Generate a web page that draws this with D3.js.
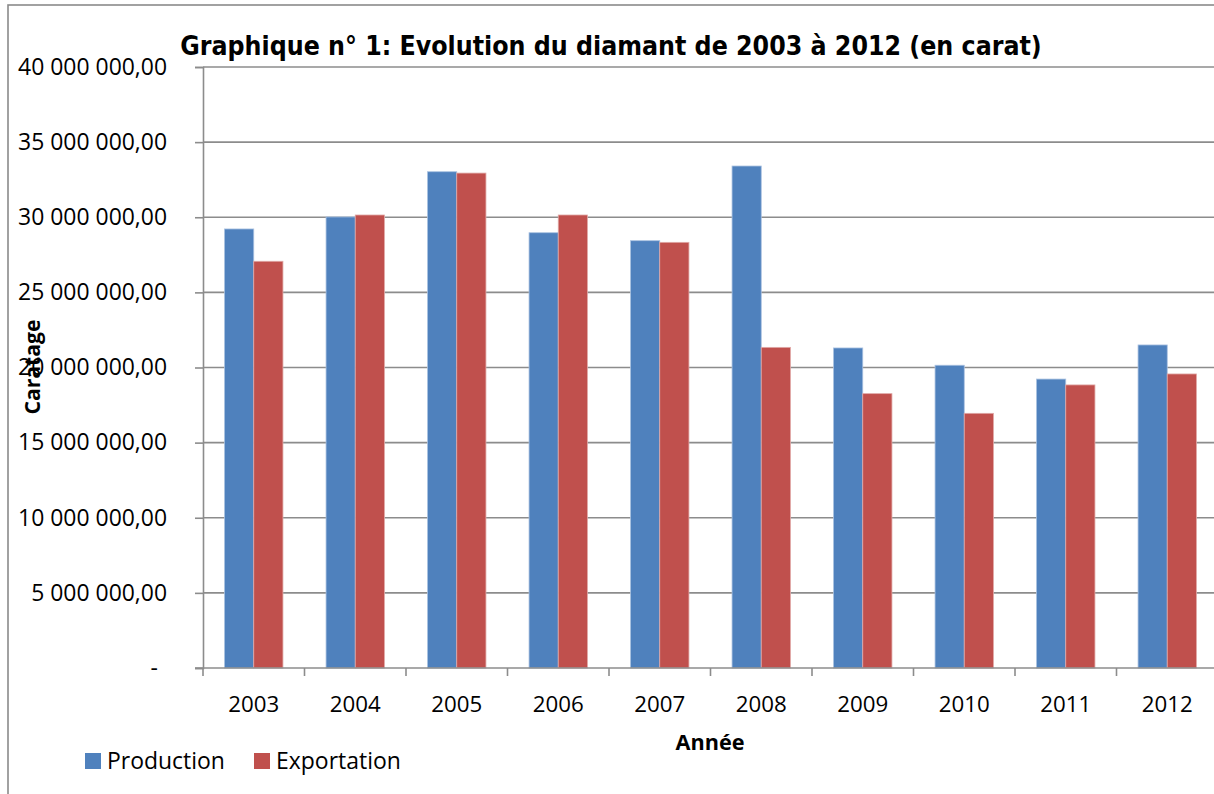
<!DOCTYPE html>
<html>
<head>
<meta charset="utf-8">
<script src="https://cdn.jsdelivr.net/npm/d3@7"></script>
<style>
  html, body { margin: 0; padding: 0; background: #fff; }
  svg { display: block; }
</style>
</head>
<body>
<svg id="chart" width="1214" height="794"></svg>
<script>
// ---- data ----
const years = ["2003","2004","2005","2006","2007","2008","2009","2010","2011","2012"];
const seriesNames = ["Production","Exportation"];
const production  = [29220000, 30020000, 33030000, 28970000, 28440000, 33410000, 21300000, 20150000, 19230000, 21500000];
const exportation = [27070000, 30150000, 32940000, 30150000, 28330000, 21340000, 18260000, 16950000, 18840000, 19570000];
const yTicks = [0, 5000000, 10000000, 15000000, 20000000, 25000000, 30000000, 35000000, 40000000];
const titleText = "Graphique n° 1: Evolution du diamant de 2003 à 2012 (en carat)";
const xTitle = "Année";
const yTitle = "Caratage";

// ---- layout ----
const colors = ["#4F81BD", "#C0504D"];
const plot = { left: 203, right: 1218, top: 67, bottom: 668 };
const svg = d3.select("#chart");
const labelFont = "'Open Sans', 'Liberation Sans', sans-serif";
const titleFont = "'DejaVu Sans', Verdana, sans-serif";

function fitWidth(sel, target) {
  const base = 20;
  sel.attr("font-size", base);
  let w = 0;
  sel.each(function () { w = Math.max(w, this.getComputedTextLength()); });
  if (w > 0) sel.attr("font-size", base * target / w);
}

// frame (only left and top visible)
svg.append("rect").attr("x", 8).attr("y", 5).attr("width", 1400).attr("height", 1000)
  .attr("fill", "none").attr("stroke", "#8a8a8a").attr("stroke-width", 1.6);

const x = d3.scaleBand().domain(years).range([plot.left, plot.right]).paddingInner(0).paddingOuter(0);
const xs = d3.scaleBand().domain(seriesNames).range([0, x.bandwidth()]).paddingInner(0).paddingOuter(0.738);
const y = d3.scaleLinear().domain([0, 40000000]).range([plot.bottom, plot.top]);

const fr = d3.formatLocale({ decimal: ",", thousands: "\u00a0", grouping: [3], currency: ["", ""] });
const fmt = fr.format(",.2f");

// gridlines
svg.append("g").selectAll("line").data(yTicks.filter(d => d > 0)).join("line")
  .attr("x1", plot.left).attr("x2", 1214)
  .attr("y1", d => y(d)).attr("y2", d => y(d))
  .attr("stroke", "#8c8c8c").attr("stroke-width", 1.6);

// bars
const data = years.map((yr, i) => ({ year: yr, values: [production[i], exportation[i]] }));
const groups = svg.append("g").selectAll("g").data(data).join("g")
  .attr("transform", d => `translate(${x(d.year)},0)`);
groups.selectAll("rect").data(d => d.values.map((v, j) => ({ name: seriesNames[j], v, j }))).join("rect")
  .attr("x", d => xs(d.name))
  .attr("width", xs.bandwidth())
  .attr("y", d => y(d.v))
  .attr("height", d => y(0) - y(d.v))
  .attr("fill", d => colors[d.j])
  .attr("stroke", d => d.j === 0 ? "#a9c1e0" : "#e0a9a7")
  .attr("stroke-width", 0.8);

// y axis
const yAxis = svg.append("g").attr("transform", `translate(${plot.left},0)`)
  .call(d3.axisLeft(y).tickValues(yTicks).tickSize(8).tickPadding(28)
    .tickFormat(d => d === 0 ? "-" : fmt(d)));
yAxis.select(".domain").attr("stroke", "#8c8c8c").attr("stroke-width", 1.6);
yAxis.selectAll(".tick line").attr("stroke", "#8c8c8c").attr("stroke-width", 1.6);
const yText = yAxis.selectAll(".tick text").attr("font-family", labelFont).attr("fill", "#000");
fitWidth(yText, 149);
yText.filter(d => d === 0).attr("dx", -9);

// x axis
const xAxis = svg.append("g").attr("transform", `translate(0,${plot.bottom})`)
  .call(d3.axisBottom(x).tickSize(0).tickPadding(0));
xAxis.select(".domain").remove();
const xText = xAxis.selectAll(".tick text").attr("font-family", labelFont).attr("fill", "#000")
  .attr("dy", null).attr("y", 44);
fitWidth(xText, 51);
svg.append("line").attr("x1", plot.left - 8).attr("x2", 1214).attr("y1", plot.bottom).attr("y2", plot.bottom)
  .attr("stroke", "#8c8c8c").attr("stroke-width", 1.6);
svg.append("g").selectAll("line").data(years).join("line")
  .attr("x1", d => x(d)).attr("x2", d => x(d))
  .attr("y1", plot.bottom).attr("y2", plot.bottom + 8)
  .attr("stroke", "#8c8c8c").attr("stroke-width", 1.6);

// title
const t = svg.append("text").attr("x", 611).attr("y", 55).attr("text-anchor", "middle")
  .attr("font-family", titleFont).attr("font-weight", "bold").attr("font-stretch", "condensed")
  .attr("fill", "#000").text(titleText);
fitWidth(t, 862);

// axis titles
const xt = svg.append("text").attr("x", 710).attr("y", 750).attr("text-anchor", "middle")
  .attr("font-family", labelFont).attr("font-weight", "bold")
  .attr("fill", "#000").text(xTitle);
fitWidth(xt, 69);
const yt = svg.append("text").attr("transform", "translate(40,367) rotate(-90)").attr("text-anchor", "middle")
  .attr("font-family", labelFont).attr("font-weight", "bold")
  .attr("fill", "#000").text(yTitle);
fitWidth(yt, 95);

// legend
const legX = [85, 254];
const leg = svg.append("g").selectAll("g").data(seriesNames).join("g")
  .attr("transform", (d, i) => `translate(${legX[i]},753)`);
leg.append("rect").attr("width", 16).attr("height", 16).attr("fill", (d, i) => colors[i]);
const legText = leg.append("text").attr("x", 22).attr("y", 16)
  .attr("font-family", labelFont).attr("fill", "#000").text(d => d);
fitWidth(legText.filter((d, i) => i === 0), 118);
fitWidth(legText.filter((d, i) => i === 1), 125);
</script>
</body>
</html>
